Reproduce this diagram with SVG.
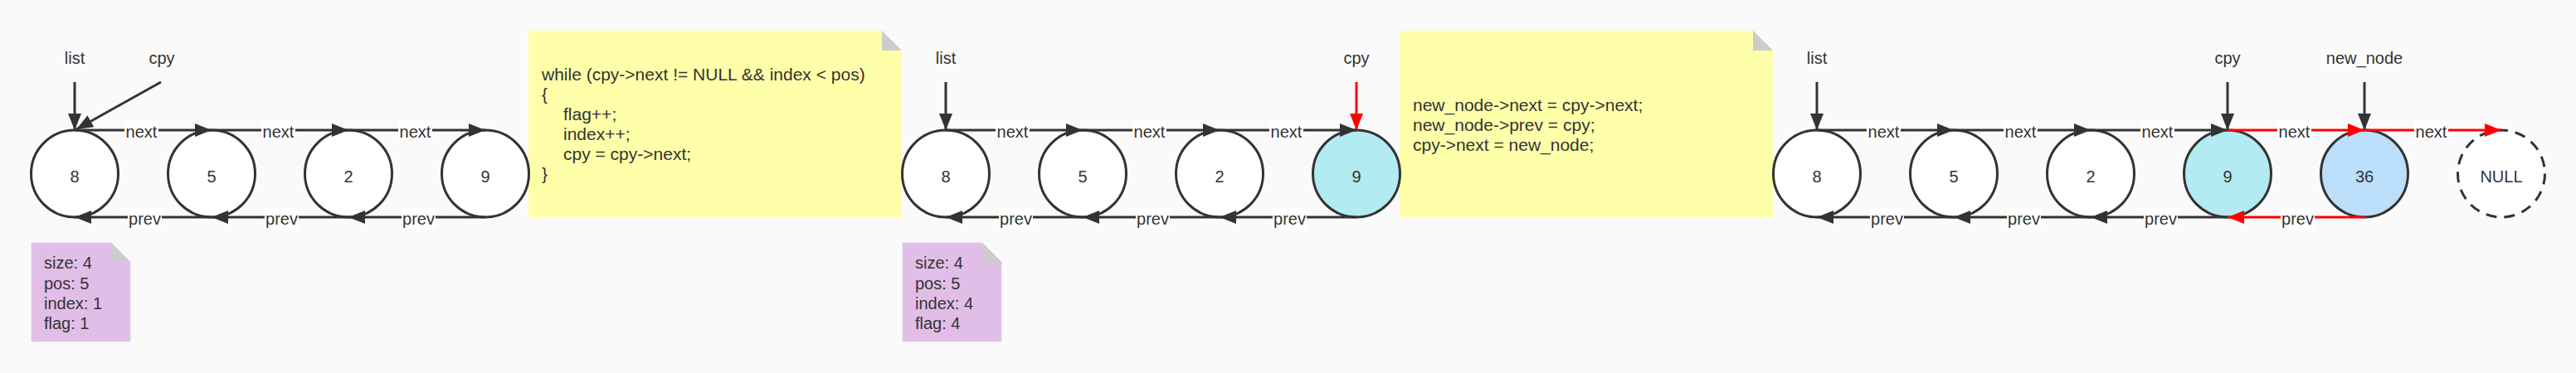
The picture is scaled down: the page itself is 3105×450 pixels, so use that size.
<svg xmlns="http://www.w3.org/2000/svg" width="3105" height="450" viewBox="0 0 3105 450">
<style>
text{font-family:"Liberation Sans",Arial,Helvetica,sans-serif;fill:#333;font-size:20px}
.code{font-size:21px}
.mid{text-anchor:middle}
.node{fill:#fff;stroke:#333;stroke-width:3}
.cyan{fill:#b2ebf2}
.blue{fill:#bbdefb}
.dash{stroke-dasharray:13 9}
.edge{stroke:#333;stroke-width:3;fill:none;marker-end:url(#ah)}
.red{stroke:#ff0000;marker-end:url(#ahr)}
.lbg{fill:#fff}
.purple{fill:#e1bee7;stroke:#e6cdea;stroke-width:1}
.yellow{fill:#ffffaa}
.fold{fill:#cccccc}
</style>
<defs>
<marker id="ah" markerUnits="userSpaceOnUse" markerWidth="20" markerHeight="16" refX="20" refY="8" orient="auto"><path d="M0,0 L20,8 L0,16 z" fill="#333"/></marker>
<marker id="ahr" markerUnits="userSpaceOnUse" markerWidth="20" markerHeight="16" refX="20" refY="8" orient="auto"><path d="M0,0 L20,8 L0,16 z" fill="#ff0000"/></marker>
</defs>
<rect width="3105" height="450" fill="#fafafa"/>

<!-- notes -->
<g id="note-vars-1">
<polygon class="purple" points="38,293 134,293 157,316 157,412 38,412"/>
<polygon class="fold" points="134,293 134,316 157,316"/>
<text x="53" y="324">size: 4</text>
<text x="53" y="349">pos: 5</text>
<text x="53" y="373">index: 1</text>
<text x="53" y="397">flag: 1</text>
</g>
<g id="note-code-1">
<polygon class="yellow" points="637,37 1063,37 1087,61 1087,262 637,262"/>
<polygon class="fold" points="1063,37 1063,61 1087,61"/>
<text class="code" x="653" y="97">while (cpy-&gt;next != NULL &amp;&amp; index &lt; pos)</text>
<text class="code" x="653" y="121">{</text>
<text class="code" x="679" y="145">flag++;</text>
<text class="code" x="679" y="169">index++;</text>
<text class="code" x="679" y="193">cpy = cpy-&gt;next;</text>
<text class="code" x="653" y="217">}</text>
</g>
<g id="note-vars-2">
<polygon class="purple" points="1088,293 1184,293 1207,316 1207,412 1088,412"/>
<polygon class="fold" points="1184,293 1184,316 1207,316"/>
<text x="1103" y="324">size: 4</text>
<text x="1103" y="349">pos: 5</text>
<text x="1103" y="373">index: 4</text>
<text x="1103" y="397">flag: 4</text>
</g>
<g id="note-code-2">
<polygon class="yellow" points="1687,37 2113,37 2137,61 2137,262 1687,262"/>
<polygon class="fold" points="2113,37 2113,61 2137,61"/>
<text class="code" x="1703" y="134">new_node-&gt;next = cpy-&gt;next;</text>
<text class="code" x="1703" y="158">new_node-&gt;prev = cpy;</text>
<text class="code" x="1703" y="182">cpy-&gt;next = new_node;</text>
</g>

<!-- pointer labels -->
<g id="ptr-labels">
<text class="mid" x="90" y="77">list</text>
<text class="mid" x="195" y="77">cpy</text>
<text class="mid" x="1140" y="77">list</text>
<text class="mid" x="1635" y="77">cpy</text>
<text class="mid" x="2190" y="77">list</text>
<text class="mid" x="2685" y="77">cpy</text>
<text class="mid" x="2850" y="77">new_node</text>
</g>

<!-- nodes panel 1 -->
<g id="p1-n8"><circle class="node" cx="90" cy="209.5" r="52.5"/><text class="mid" x="90" y="220">8</text></g>
<g id="p1-n5"><circle class="node" cx="255" cy="209.5" r="52.5"/><text class="mid" x="255" y="220">5</text></g>
<g id="p1-n2"><circle class="node" cx="420" cy="209.5" r="52.5"/><text class="mid" x="420" y="220">2</text></g>
<g id="p1-n9"><circle class="node" cx="585" cy="209.5" r="52.5"/><text class="mid" x="585" y="220">9</text></g>
<!-- nodes panel 2 -->
<g id="p2-n8"><circle class="node" cx="1140" cy="209.5" r="52.5"/><text class="mid" x="1140" y="220">8</text></g>
<g id="p2-n5"><circle class="node" cx="1305" cy="209.5" r="52.5"/><text class="mid" x="1305" y="220">5</text></g>
<g id="p2-n2"><circle class="node" cx="1470" cy="209.5" r="52.5"/><text class="mid" x="1470" y="220">2</text></g>
<g id="p2-n9"><circle class="node cyan" cx="1635" cy="209.5" r="52.5"/><text class="mid" x="1635" y="220">9</text></g>
<!-- nodes panel 3 -->
<g id="p3-n8"><circle class="node" cx="2190" cy="209.5" r="52.5"/><text class="mid" x="2190" y="220">8</text></g>
<g id="p3-n5"><circle class="node" cx="2355" cy="209.5" r="52.5"/><text class="mid" x="2355" y="220">5</text></g>
<g id="p3-n2"><circle class="node" cx="2520" cy="209.5" r="52.5"/><text class="mid" x="2520" y="220">2</text></g>
<g id="p3-n9"><circle class="node cyan" cx="2685" cy="209.5" r="52.5"/><text class="mid" x="2685" y="220">9</text></g>
<g id="p3-n36"><circle class="node blue" cx="2850" cy="209.5" r="52.5"/><text class="mid" x="2850" y="220">36</text></g>
<g id="p3-null"><circle class="node dash" cx="3015" cy="209.5" r="52.5"/><text class="mid" x="3015" y="220">NULL</text></g>

<!-- connectors -->
<g id="connectors">
<!-- pointers -->
<line class="edge" x1="90" y1="99" x2="90" y2="157"/>
<line class="edge" x1="194" y1="99" x2="92" y2="156"/>
<line class="edge" x1="1140" y1="99" x2="1140" y2="157"/>
<line class="edge red" x1="1635" y1="99" x2="1635" y2="157"/>
<line class="edge" x1="2190" y1="99" x2="2190" y2="157"/>
<line class="edge" x1="2685" y1="99" x2="2685" y2="157"/>
<line class="edge" x1="2850" y1="99" x2="2850" y2="157"/>

<!-- panel 1 -->
<line class="edge" x1="90" y1="157" x2="255" y2="157"/>
<line class="edge" x1="255" y1="157" x2="420" y2="157"/>
<line class="edge" x1="420" y1="157" x2="585" y2="157"/>
<line class="edge" x1="255" y1="262" x2="90" y2="262"/>
<line class="edge" x1="420" y1="262" x2="255" y2="262"/>
<line class="edge" x1="585" y1="262" x2="420" y2="262"/>
<!-- panel 2 -->
<line class="edge" x1="1140" y1="157" x2="1305" y2="157"/>
<line class="edge" x1="1305" y1="157" x2="1470" y2="157"/>
<line class="edge" x1="1470" y1="157" x2="1635" y2="157"/>
<line class="edge" x1="1305" y1="262" x2="1140" y2="262"/>
<line class="edge" x1="1470" y1="262" x2="1305" y2="262"/>
<line class="edge" x1="1635" y1="262" x2="1470" y2="262"/>
<!-- panel 3 -->
<line class="edge" x1="2190" y1="157" x2="2355" y2="157"/>
<line class="edge" x1="2355" y1="157" x2="2520" y2="157"/>
<line class="edge" x1="2520" y1="157" x2="2685" y2="157"/>
<line class="edge red" x1="2685" y1="157" x2="2850" y2="157"/>
<line class="edge red" x1="2850" y1="157" x2="3015" y2="157"/>
<line class="edge" x1="2355" y1="262" x2="2190" y2="262"/>
<line class="edge" x1="2520" y1="262" x2="2355" y2="262"/>
<line class="edge" x1="2685" y1="262" x2="2520" y2="262"/>
<line class="edge red" x1="2850" y1="262" x2="2685" y2="262"/>

<!-- edge labels -->
<g id="edge-labels">
<rect class="lbg" x="150" y="146" width="41" height="22"/><text class="mid" x="170.5" y="166">next</text>
<rect class="lbg" x="315" y="146" width="41" height="22"/><text class="mid" x="335.5" y="166">next</text>
<rect class="lbg" x="480" y="146" width="41" height="22"/><text class="mid" x="500.5" y="166">next</text>
<rect class="lbg" x="154" y="251" width="41" height="24"/><text class="mid" x="174.5" y="271">prev</text>
<rect class="lbg" x="319" y="251" width="41" height="24"/><text class="mid" x="339.5" y="271">prev</text>
<rect class="lbg" x="484" y="251" width="41" height="24"/><text class="mid" x="504.5" y="271">prev</text>

<rect class="lbg" x="1200" y="146" width="41" height="22"/><text class="mid" x="1220.5" y="166">next</text>
<rect class="lbg" x="1365" y="146" width="41" height="22"/><text class="mid" x="1385.5" y="166">next</text>
<rect class="lbg" x="1530" y="146" width="41" height="22"/><text class="mid" x="1550.5" y="166">next</text>
<rect class="lbg" x="1204" y="251" width="41" height="24"/><text class="mid" x="1224.5" y="271">prev</text>
<rect class="lbg" x="1369" y="251" width="41" height="24"/><text class="mid" x="1389.5" y="271">prev</text>
<rect class="lbg" x="1534" y="251" width="41" height="24"/><text class="mid" x="1554.5" y="271">prev</text>

<rect class="lbg" x="2250" y="146" width="41" height="22"/><text class="mid" x="2270.5" y="166">next</text>
<rect class="lbg" x="2415" y="146" width="41" height="22"/><text class="mid" x="2435.5" y="166">next</text>
<rect class="lbg" x="2580" y="146" width="41" height="22"/><text class="mid" x="2600.5" y="166">next</text>
<rect class="lbg" x="2745" y="146" width="41" height="22"/><text class="mid" x="2765.5" y="166">next</text>
<rect class="lbg" x="2910" y="146" width="41" height="22"/><text class="mid" x="2930.5" y="166">next</text>
<rect class="lbg" x="2254" y="251" width="41" height="24"/><text class="mid" x="2274.5" y="271">prev</text>
<rect class="lbg" x="2419" y="251" width="41" height="24"/><text class="mid" x="2439.5" y="271">prev</text>
<rect class="lbg" x="2584" y="251" width="41" height="24"/><text class="mid" x="2604.5" y="271">prev</text>
<rect class="lbg" x="2749" y="251" width="41" height="24"/><text class="mid" x="2769.5" y="271">prev</text>
</g>
</g>
</svg>
